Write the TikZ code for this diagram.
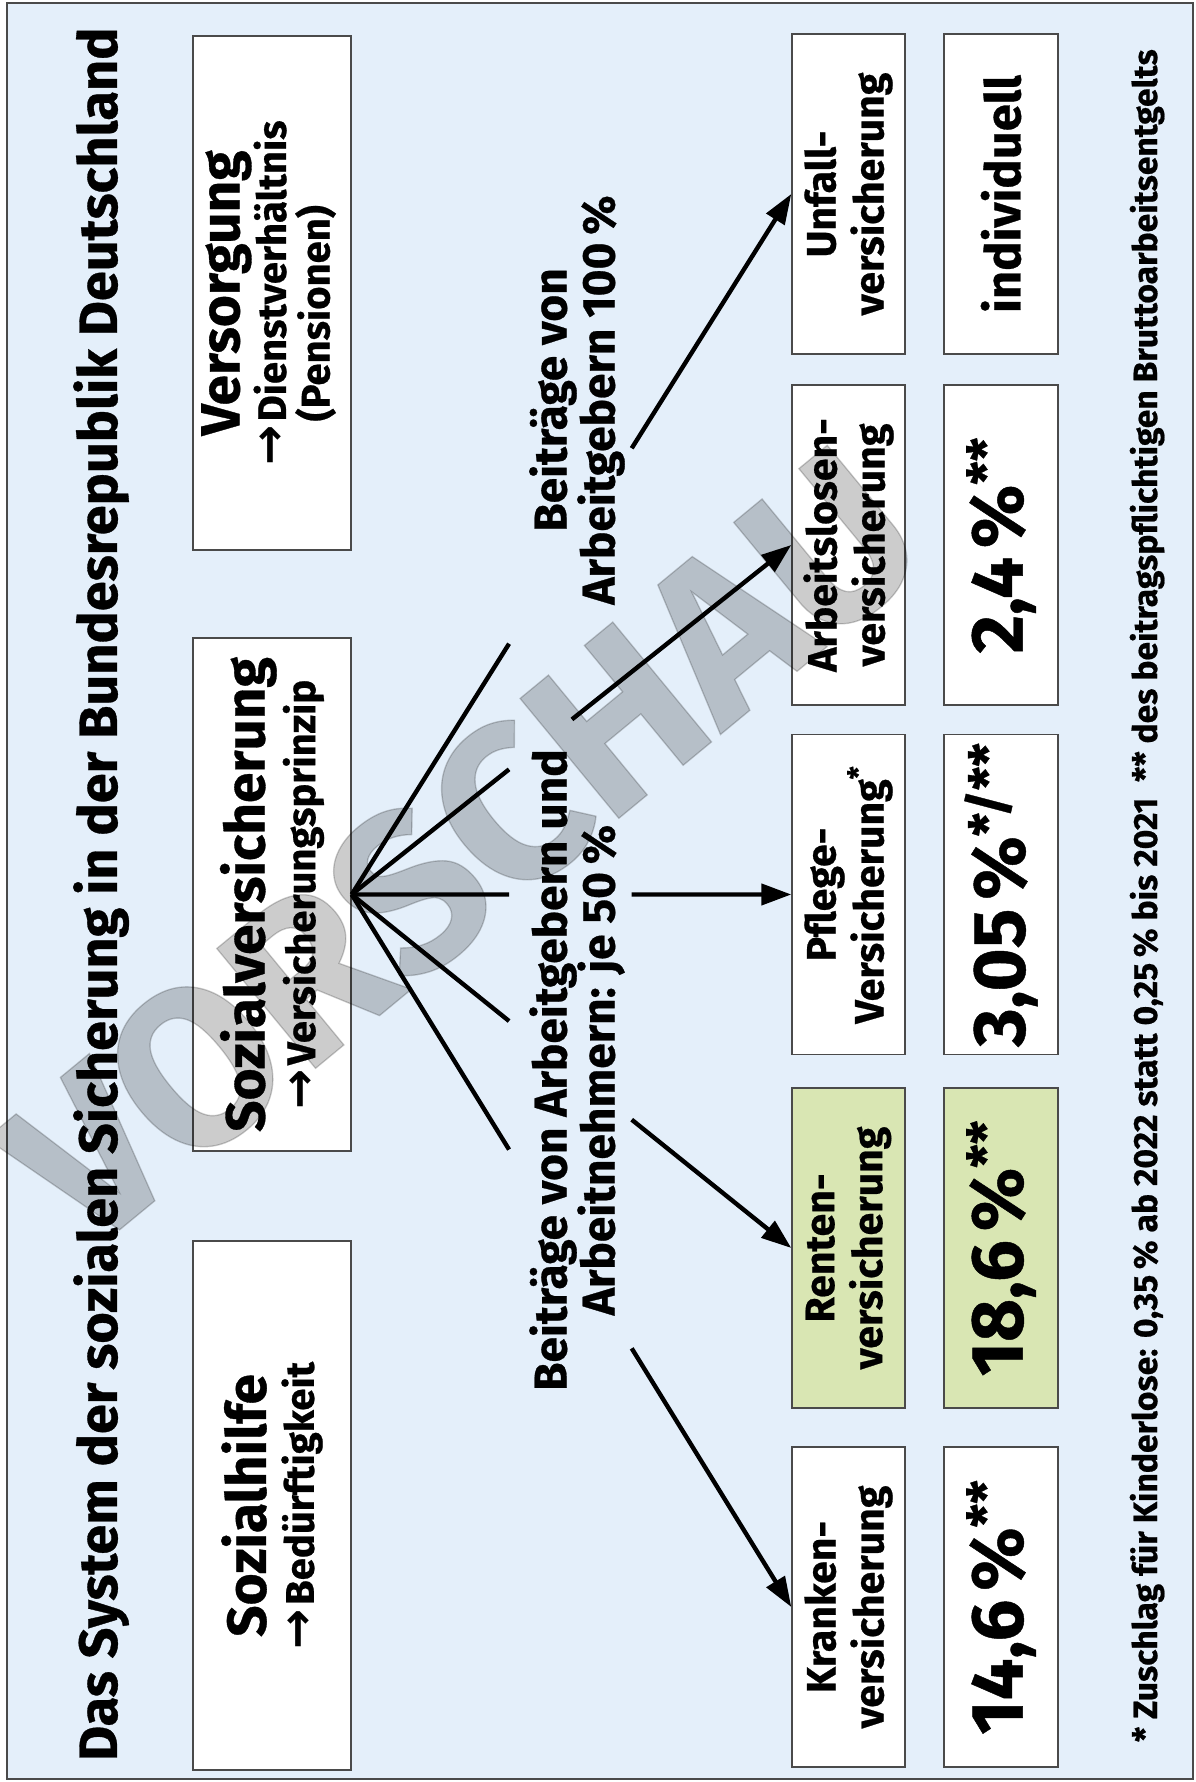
\documentclass[tikz,border=0pt]{standalone}
\usepackage{fontspec}
\setmainfont{Fira Sans}[BoldFeatures={FakeBold=0.6}]
\newfontfamily\arrowfont{DejaVu Sans}
\usetikzlibrary{arrows.meta,calc}

\definecolor{bgblue}{HTML}{E4EFFA}
\definecolor{rentgreen}{HTML}{D9E6B3}
\definecolor{frameline}{HTML}{4A4A4A}
\newcommand{\pfeilzeichen}{{\arrowfont\bfseries\fontsize{24}{20}\selectfont\char"2192}\hspace{0.1em}}

\begin{document}
\begin{tikzpicture}[rotate=90, transform shape, x=0.5pt, y=0.5pt, font=\bfseries,
  box/.style={draw=frameline, fill=white, line width=0.7pt, inner sep=0pt, align=center},
  kind/.style={box, minimum height=79pt, font=\bfseries\fontsize{20}{22}\selectfont},
  zweig/.style={box, minimum width=160pt, minimum height=56.5pt, font=\bfseries\fontsize{20.5}{24}\selectfont},
  satz/.style={box, minimum width=160pt, minimum height=57pt, font=\bfseries\fontsize{37}{40}\selectfont},
  strich/.style={line width=2.2pt},
  pfeil/.style={line width=2.2pt, -{Triangle[length=15pt,width=10.5pt]}},
  hinweis/.style={inner sep=0pt, align=center, font=\bfseries\fontsize{23}{24}\selectfont}]

  \useasboundingbox (0,0) rectangle (1782,1195);
  \draw[frameline, fill=bgblue, line width=0.8pt] (3,2) rectangle (1779,1188);

  \node[anchor=base west, font=\bfseries\fontsize{27}{30}\selectfont] (titel) at (14,1078)
    {Das System der sozialen Sicherung in der Bundesrepublik Deutschland};

  \node[kind, minimum width=264.5pt] (sozhilfe) at (276.5,923)
    {{\fontsize{27.5}{28}\selectfont Sozialhilfe}\\[2pt] \pfeilzeichen Bedürftigkeit};
  \node[kind, minimum width=256.5pt] (sozvers) at (887.5,923)
    {{\fontsize{27.5}{28}\selectfont Sozialversicherung}\\[2pt] \pfeilzeichen Versicherungsprinzip};
  \node[kind, minimum width=257pt] (versorgung) at (1489,923)
    {{\fontsize{27.5}{28}\selectfont Versorgung}\\
     \pfeilzeichen\begin{tabular}[t]{@{}l@{}}Dienstverhältnis\\[-2pt](Pensionen)\end{tabular}};

  \node[zweig] (kranken) at (175,346.5) {Kranken-\\versicherung};
  \node[zweig, fill=rentgreen] (rente) at (534,346.5) {Renten-\\versicherung};
  \node[zweig] (pflege) at (887.5,346.5) {Pflege-\\Versicherung\textsuperscript{*}};
  \node[zweig] (arbeitslos) at (1237,346.5) {Arbeitslosen-\\versicherung};
  \node[zweig] (unfall) at (1588,346.5) {Unfall-\\versicherung};

  \node[satz] (krankensatz) at (175,194) {14,6\hspace{0.12em}\%\textsuperscript{**}};
  \node[satz, fill=rentgreen] (rentesatz) at (534,194) {18,6\hspace{0.12em}\%\textsuperscript{**}};
  \node[satz] (pflegesatz) at (887.5,194) {3,05\hspace{0.12em}\%\textsuperscript{*/**}};
  \node[satz] (arbeitslossatz) at (1237,194) {2,4\hspace{0.12em}\%\textsuperscript{**}};
  \node[satz, font=\bfseries\fontsize{24.5}{26}\selectfont] (unfallsatz) at (1588,194) {individuell};

  \node[hinweis] (halbe) at (712,618) {Beiträge von Arbeitgebern und\\Arbeitnehmern: je 50\,\%};
  \node[hinweis] (ganze) at (1382,618) {Beiträge von\\Arbeitgebern 100\,\%};

  \foreach \ziel/\weiter in {kranken/0.637, rente/0.637, pflege/0.637, arbeitslos/0.501, unfall/0.637} {
    \draw[strich] (sozvers.south) -- ($(sozvers.south)!0.358!(\ziel.north)$);
    \draw[pfeil] ($(sozvers.south)!\weiter!(\ziel.north)$) -- (\ziel.north);
  }

  \node[anchor=base west, font=\bfseries\fontsize{16.8}{19}\selectfont] (fussnote) at (33,38)
    {* Zuschlag für Kinderlose: 0,35\,\% ab 2022 statt 0,25\,\% bis 2021 \ ** des beitragspflichtigen Bruttoarbeitsentgelts};

  \node[rotate=-50.5, font=\bfseries\fontsize{112}{116}\selectfont, text=black, opacity=0.2] (vorschau) at (935,733) {VORSCHAU};
\end{tikzpicture}
\end{document}
